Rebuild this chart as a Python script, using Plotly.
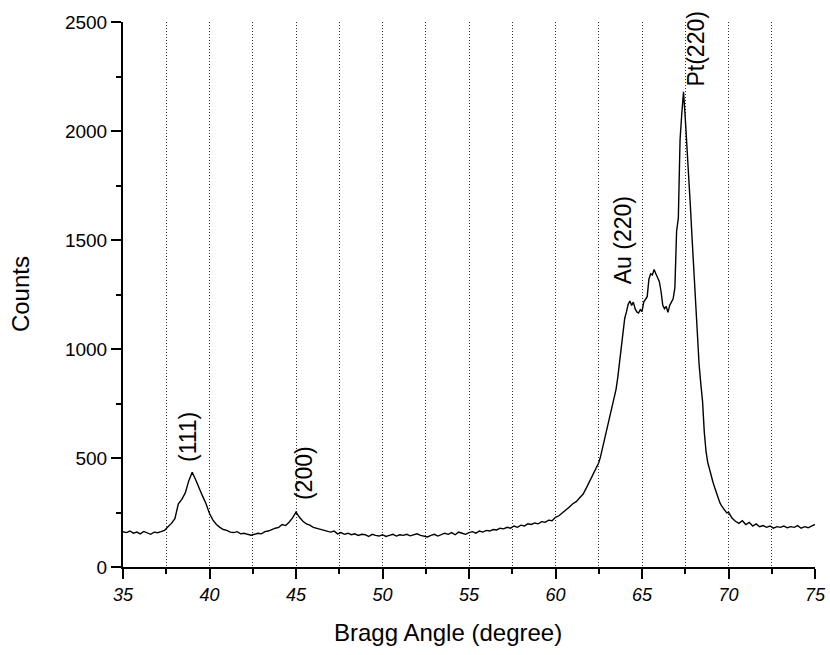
import plotly.graph_objects as go

# Bragg angle (degree) and counts
angle = [
    35.0, 35.2, 35.4, 35.6, 35.8, 36.0, 36.2, 36.4, 36.6, 36.8, 37.0, 37.2, 37.4,
    37.6, 37.8, 38.0, 38.2, 38.4, 38.6, 38.8, 39.0, 39.2, 39.4, 39.6, 39.8, 40.0,
    40.2, 40.4, 40.6, 40.8, 41.0, 41.2, 41.4, 41.6, 41.8, 42.0, 42.2, 42.4, 42.6,
    42.8, 43.0, 43.2, 43.4, 43.6, 43.8, 44.0, 44.2, 44.4, 44.6, 44.8, 45.0, 45.2,
    45.4, 45.6, 45.8, 46.0, 46.2, 46.4, 46.6, 46.8, 47.0, 47.2, 47.4, 47.6, 47.8,
    48.0, 48.2, 48.4, 48.6, 48.8, 49.0, 49.2, 49.4, 49.6, 49.8, 50.0, 50.2, 50.4,
    50.6, 50.8, 51.0, 51.2, 51.4, 51.6, 51.8, 52.0, 52.2, 52.4, 52.6, 52.8, 53.0,
    53.2, 53.4, 53.6, 53.8, 54.0, 54.2, 54.4, 54.6, 54.8, 55.0, 55.2, 55.4, 55.6,
    55.8, 56.0, 56.2, 56.4, 56.6, 56.8, 57.0, 57.2, 57.4, 57.6, 57.8, 58.0, 58.2,
    58.4, 58.6, 58.8, 59.0, 59.2, 59.4, 59.6, 59.8, 60.0, 60.2, 60.4, 60.6, 60.8,
    61.0, 61.2, 61.4, 61.6, 61.8,
    62.0, 62.1, 62.2, 62.3, 62.4, 62.5, 62.6, 62.7, 62.8, 62.9, 63.0, 63.1, 63.2,
    63.3, 63.4, 63.5, 63.6, 63.7, 63.8, 63.9, 64.0, 64.1, 64.2, 64.3, 64.4, 64.5,
    64.6, 64.7, 64.8, 64.9, 65.0, 65.1, 65.2, 65.3, 65.4, 65.5, 65.6, 65.7, 65.8,
    65.9, 66.0, 66.1, 66.2, 66.3, 66.4, 66.5, 66.6, 66.7, 66.8, 66.9, 67.0, 67.1,
    67.2, 67.3, 67.4, 67.5, 67.6, 67.7, 67.8, 67.9, 68.0, 68.1, 68.2, 68.3, 68.4,
    68.5, 68.6, 68.7, 68.8, 68.9, 69.0, 69.1, 69.2, 69.3, 69.4, 69.5, 69.6, 69.7,
    69.8, 69.9,
    70.0, 70.2, 70.4, 70.6, 70.8, 71.0, 71.2, 71.4, 71.6, 71.8, 72.0, 72.2, 72.4,
    72.6, 72.8, 73.0, 73.2, 73.4, 73.6, 73.8, 74.0, 74.2, 74.4, 74.6, 74.8, 75.0,
]
counts = [
    162, 158, 165, 155, 160, 152, 163, 158, 150, 160, 157, 162, 168,
    185, 200, 222, 290, 310, 340, 395, 435, 400, 360, 325, 290, 245,
    215, 195, 182, 172, 168, 160, 158, 162, 152, 155, 150, 146, 150,
    155, 152, 162, 165, 172, 178, 182, 195, 190, 205, 225, 252, 228,
    210, 198, 192, 182, 178, 172, 168, 165, 160, 165, 152, 158, 150,
    155, 148, 152, 145, 150, 148, 140, 150, 145, 142, 148, 140, 145,
    150, 142, 148, 145, 150, 143, 148, 152, 145, 142, 138, 145, 150,
    142, 148, 155, 150, 158, 148, 160, 155, 150, 158, 162, 155, 165,
    160, 168, 165, 172, 170, 178, 175, 182, 178, 188, 182, 192, 188,
    198, 195, 202, 198, 208, 205, 215, 212, 228, 235, 248, 258, 275,
    290, 300, 318, 335, 365,
    398, 410, 425, 440, 458, 478, 505, 540, 575, 610, 655, 690, 715,
    745, 780, 815, 870, 940, 1010, 1080, 1140, 1170, 1205, 1220, 1200, 1215,
    1185, 1170, 1165, 1180, 1172, 1215, 1230, 1240, 1320, 1345, 1340, 1365, 1345,
    1330, 1310, 1265, 1200, 1185, 1195, 1168, 1200, 1215, 1230, 1280, 1540, 1600,
    1960, 2080, 2180, 2060, 1940, 1790, 1650, 1500, 1350, 1210, 1060, 930, 840,
    760, 620, 530, 480, 445, 420, 390, 365, 340, 318, 295, 280, 268,
    260, 248,
    252, 225, 210, 200, 212, 195, 205, 188, 198, 185, 190, 182, 188,
    178, 185, 182, 188, 180, 185, 182, 190, 178, 185, 180, 188, 195,
]

# Peak labels (rotated text) and where they sit
peak_labels = ["(111)", "(200)", "Au (220)", "Pt(220)"]
label_x = [38.8, 45.45, 63.95, 68.15]
label_y = [595, 430, 1498, 2376]

x_ticks = [35, 40, 45, 50, 55, 60, 65, 70, 75]
y_ticks = [0, 500, 1000, 1500, 2000, 2500]

FONT = "Liberation Sans, Arial, sans-serif"

fig = go.Figure()
fig.add_trace(go.Scatter(
    x=angle, y=counts, mode="lines",
    line=dict(color="black", width=1.4),
    showlegend=False, hoverinfo="skip",
))

for t, lx, ly in zip(peak_labels, label_x, label_y):
    fig.add_annotation(
        x=lx, y=ly, text=t, textangle=-90, showarrow=False,
        xanchor="center", yanchor="middle",
        font=dict(family=FONT, size=23, color="black"),
    )

fig.add_annotation(
    x=0.47, y=-0.092, xref="paper", yref="paper", text="Bragg Angle (degree)",
    showarrow=False, xanchor="center", yanchor="top",
    font=dict(family=FONT, size=24, color="black"),
)
fig.add_annotation(
    x=-0.148, y=0.5, xref="paper", yref="paper", text="Counts", textangle=-90,
    showarrow=False, xanchor="center", yanchor="middle",
    font=dict(family=FONT, size=24, color="black"),
)

fig.update_layout(
    width=830, height=655,
    margin=dict(l=123, r=15, t=22, b=88, autoexpand=False),
    paper_bgcolor="white", plot_bgcolor="white",
    font=dict(family=FONT, color="black"),
)
fig.update_xaxes(
    range=[35, 75], tickvals=x_ticks, automargin=False,
    ticktext=[f"<i>{v}</i>" for v in x_ticks],
    tickfont=dict(family=FONT, size=18, color="black"),
    showline=True, linecolor="black", linewidth=2,
    ticks="outside", ticklen=10, tickwidth=2, tickcolor="black",
    showgrid=False, zeroline=False,
    minor=dict(dtick=2.5, tick0=35, ticks="outside", ticklen=5, tickwidth=1.5,
               tickcolor="black", showgrid=True, gridcolor="#333333",
               gridwidth=1, griddash="1px,2px"),
)
fig.update_yaxes(
    range=[0, 2500], tickvals=y_ticks, automargin=False,
    tickfont=dict(family=FONT, size=19, color="black"),
    showline=True, linecolor="black", linewidth=2,
    ticks="outside", ticklen=10, tickwidth=2, tickcolor="black",
    showgrid=False, zeroline=False,
    minor=dict(dtick=250, tick0=0, ticks="outside", ticklen=5, tickwidth=1.5,
               tickcolor="black", showgrid=False),
)

fig.write_html("out.html")
